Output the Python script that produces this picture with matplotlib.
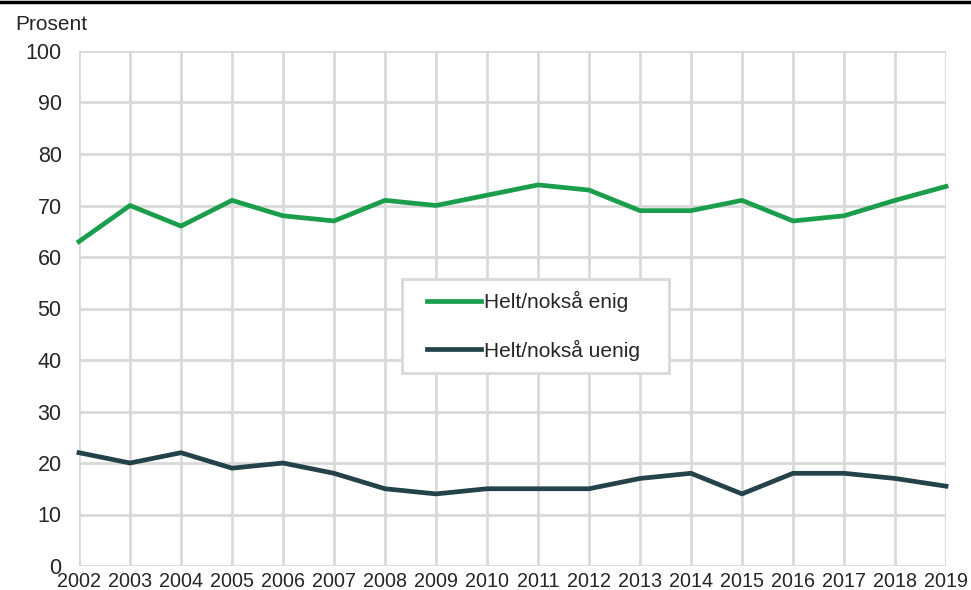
import matplotlib
matplotlib.use("Agg")
import matplotlib.pyplot as plt
import matplotlib.lines as mlines
from matplotlib.patches import Rectangle

plt.rcParams["font.family"] = ["Liberation Sans", "DejaVu Sans"]

# Data
years = list(range(2002, 2020))
enig = [63, 70, 66, 71, 68, 67, 71, 70, 72, 74, 73, 69, 69, 71, 67, 68, 71, 73.7]
uenig = [22, 20, 22, 19, 20, 18, 15, 14, 15, 15, 15, 17, 18, 14, 18, 18, 17, 15.5]
labels = ["Helt/nokså enig", "Helt/nokså uenig"]
colors = ["#1b9e4b", "#23424a"]
y_ticks = list(range(0, 101, 10))

fig = plt.figure(figsize=(9.71, 5.90), dpi=100)
ax = fig.add_axes([79 / 971, 1 - 566 / 590, 867 / 971, 515 / 590])

ax.plot(years, enig, color=colors[0], lw=3.4, label=labels[0], clip_on=False, zorder=3)
ax.plot(years, uenig, color=colors[1], lw=3.4, label=labels[1], clip_on=False, zorder=3)

ax.set_xlim(years[0], years[-1])
ax.set_ylim(0, 100)
ax.set_xticks(years)
ax.set_xticklabels([str(y) for y in years])
ax.set_yticks(y_ticks)
ax.grid(True, color="#d9d9d9", lw=2)
ax.set_axisbelow(True)
for s in ax.spines.values():
    s.set_visible(False)
ax.tick_params(length=0, colors="#262626")
ax.tick_params(axis="y", labelsize=15.5, pad=12.5)
ax.tick_params(axis="x", labelsize=14.2, pad=4.5)

# legend box drawn by hand, legend itself without frame
ax.add_patch(Rectangle((323 / 867, 193 / 515), 267 / 867, 94 / 515, transform=ax.transAxes,
                       facecolor="white", edgecolor="#d9d9d9", lw=2, zorder=4))
leg = ax.legend(loc="center", bbox_to_anchor=(0.5245, 0.466), frameon=False,
                fontsize=15, handlelength=2.6, handletextpad=0.15, labelspacing=1.3,
                borderpad=0, borderaxespad=0)
leg.set_zorder(5)
for t in leg.get_texts():
    t.set_color("#262626")

fig.text(15 / 971, 1 - 25 / 590, "Prosent", fontsize=15, color="#262626", va="center", ha="left")

# black band at the top
fig.add_artist(mlines.Line2D([0, 1], [1 - 1.5 / 590, 1 - 1.5 / 590], color="black", lw=2.5, transform=fig.transFigure))

fig.savefig("out.png", dpi=100)
